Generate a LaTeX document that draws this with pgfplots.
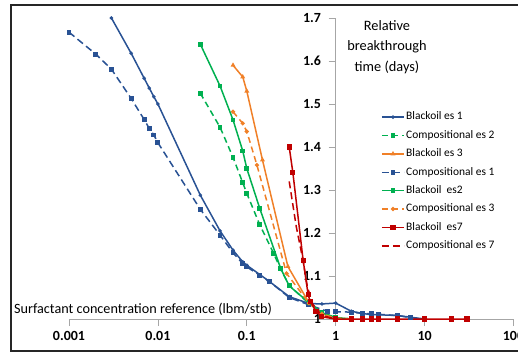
\documentclass[border=0pt]{standalone}
\usepackage{fontspec}
\setmainfont{Carlito}
\usepackage{pgfplots}
\pgfplotsset{compat=1.18}
\definecolor{cblue}{RGB}{41,82,148}
\definecolor{cgreen}{RGB}{0,176,80}
\definecolor{corange}{RGB}{240,128,40}
\definecolor{cred}{RGB}{192,0,0}
\begin{document}
\begin{tikzpicture}[x=1bp,y=1bp]
\useasboundingbox (0,0) rectangle (518,356);
\draw[line width=1.5bp, black!85] (11,5) rectangle (540,351);
\begin{axis}[
  at={(69bp,37bp)}, anchor=south west,
  scale only axis, width=444.5bp, height=301bp,
  xmode=log, log basis x=10,
  xmin=0.001, xmax=100, ymin=1, ymax=1.7,
  axis x line=bottom, axis y line=middle,
  hide obscured x ticks=false, hide obscured y ticks=false,
  axis line style={-, draw=gray!70, line width=0.8bp},
  every inner y axis line/.append style={-},
  every outer x axis line/.append style={-},
  xtick={0.001,0.01,0.1,1,10,100},
  xticklabels={0.001,0.01,0.1,1,10,100},
  ytick={1,1.1,1.2,1.3,1.4,1.5,1.6,1.7},
  yticklabels={1,1.1,1.2,1.3,1.4,1.5,1.6,1.7},
  xminorticks=false, yminorticks=false,
  tick align=outside, major tick length=7bp,
  tick style={draw=gray!70, line width=0.8bp},
  xticklabel style={anchor=base, yshift=-14bp, inner sep=0pt, font=\bfseries\fontsize{14}{14}\selectfont},
  yticklabel style={anchor=base east, xshift=-7.5bp, yshift=-4.4bp, inner sep=0pt, font=\bfseries\fontsize{14}{14}\selectfont},
  legend cell align=left,
  legend image code/.code={\draw[mark repeat=2,mark phase=2] plot coordinates {(0bp,0bp) (11bp,0bp) (22bp,0bp)};},
  legend style={at={(0.702,0.702)}, anchor=north west, draw=none, fill=none, inner sep=0pt,
    row sep=0bp, font=\fontsize{11.5}{11.5}\selectfont,
    nodes={inner ysep=0bp, inner xsep=1.5bp, text height=12bp, text depth=6.4bp},
    /tikz/every even column/.append style={column sep=0bp}},
  every axis plot/.append style={line width=1.5bp},
]
\addplot[cblue, mark=*, mark size=0.9bp] coordinates {
(0.003,1.700) (0.005,1.618) (0.007,1.560) (0.008,1.537) (0.009,1.517) (0.01,1.500)
(0.03,1.288) (0.05,1.205) (0.07,1.160) (0.09,1.133) (0.1,1.125) (0.175,1.089)
(0.3,1.052) (0.5,1.036) (0.7,1.035) (1,1.037) (1.5,1.018) (2,1.013) (2.5,1.010)
(3,1.010) (5,1.008) (7,1.004) (10,1.000)};
\addlegendentry{Blackoil es 1}
\addplot[cgreen, dash pattern=on 6bp off 4bp, mark=square*, mark size=1.6bp, mark options={solid}] coordinates {
(0.03,1.525) (0.05,1.446) (0.07,1.376) (0.09,1.317) (0.1,1.292) (0.14,1.219)
(0.2,1.153) (0.24,1.116) (0.3,1.078) (0.5,1.036) (0.7,1.015) (1,1.003) (1.5,1.000)};
\addlegendentry{Compositional es 2}
\addplot[corange, mark=triangle*, mark size=1.4bp, mark options={solid}] coordinates {
(0.07,1.590) (0.09,1.563) (0.1,1.530) (0.15,1.370) (0.29,1.122) (0.5,1.038)
(0.7,1.012) (1,1.003) (1.5,1.000)};
\addlegendentry{Blackoil es 3}
\addplot[cblue, dash pattern=on 7bp off 4bp, mark=square*, mark size=1.7bp, mark options={solid}] coordinates {
(0.001,1.667) (0.002,1.616) (0.003,1.581) (0.005,1.513) (0.007,1.464) (0.008,1.443)
(0.009,1.428) (0.01,1.410) (0.03,1.255) (0.05,1.195) (0.07,1.154) (0.09,1.129)
(0.1,1.121) (0.14,1.102) (0.18,1.087) (0.3,1.050) (0.5,1.033) (0.8,1.018) (1,1.017)
(1.5,1.016) (2,1.013) (2.5,1.012) (3,1.011) (5,1.008) (7,1.003) (10,1.000)};
\addlegendentry{Compositional es 1}
\addplot[cgreen, mark=square*, mark size=1.6bp] coordinates {
(0.03,1.639) (0.05,1.542) (0.07,1.463) (0.09,1.391) (0.1,1.350) (0.14,1.257)
(0.24,1.118) (0.3,1.077) (0.5,1.038) (0.7,1.015) (1,1.003) (1.5,1.000)};
\addlegendentry{Blackoil\ \ es2}
\addplot[corange, dash pattern=on 6bp off 4bp, mark=*, mark size=1.3bp, mark options={solid}] coordinates {
(0.07,1.482) (0.09,1.455) (0.1,1.436) (0.13,1.358) (0.28,1.106) (0.5,1.037)
(0.7,1.012) (1,1.002) (1.5,1.000)};
\addlegendentry{Compositional es 3}
\addplot[cred, mark=square*, mark size=1.8bp] coordinates {
(0.3,1.400) (0.33,1.340) (0.43,1.137) (0.49,1.056) (0.52,1.040) (0.6,1.018)
(0.7,1.005) (1,1.000) (1.5,1.000) (2,1.000) (2.5,1.000) (3,1.000) (5,1.000)
(10,1.000) (20,1.000) (30,1.000)};
\addlegendentry{Blackoil\ \ es7}
\addplot[cred, dash pattern=on 7bp off 4bp] coordinates {
(0.3,1.320) (0.36,1.215) (0.43,1.135) (0.48,1.075) (0.55,1.035) (0.7,1.008) (1,1.000)};
\addlegendentry{Compositional es 7}
\end{axis}
\node[anchor=base west, inner sep=0pt, font=\fontsize{14.25}{14.25}\selectfont] at (14,43) {Surfactant concentration reference (lbm/stb)};
\node[align=center, inner sep=0pt, font=\fontsize{14.4}{20.8}\selectfont] at (387,309) {Relative\\breakthrough\\time (days)};
\end{tikzpicture}
\end{document}
